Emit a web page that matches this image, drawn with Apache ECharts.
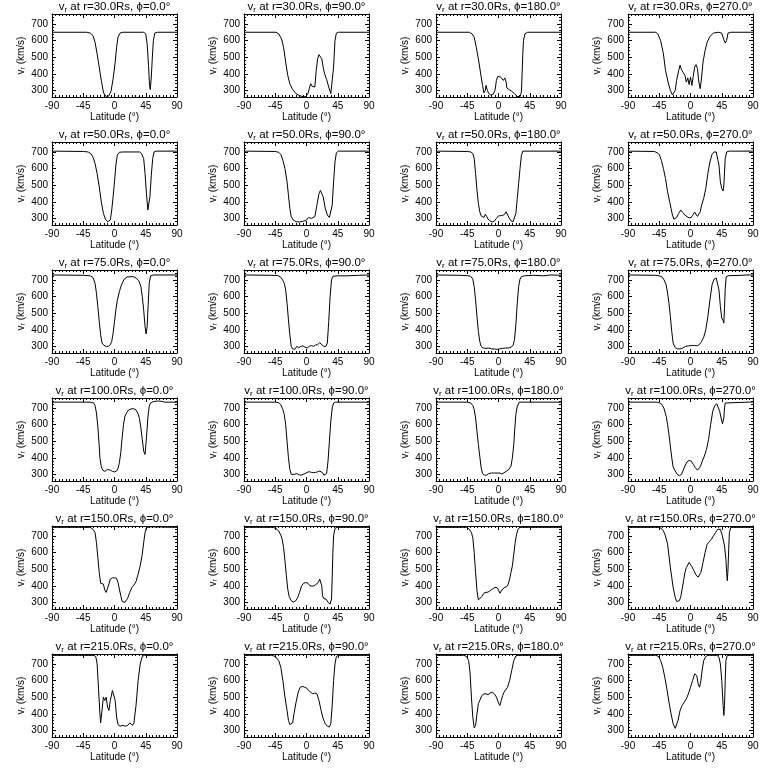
<!DOCTYPE html>
<html><head><meta charset="utf-8">
<script src="https://cdn.jsdelivr.net/npm/echarts@6/dist/echarts.min.js"></script>
<style>html,body{margin:0;padding:0;background:#fff}#c{width:768px;height:768px}</style>
</head><body><div id="c"></div>
<script>
const radii = [30, 50, 75, 100, 150, 215];
const phis = [0, 90, 180, 270];
const latTicks = [-90, -45, 0, 45, 90];
const vTicks = [300, 400, 500, 600, 700];

// [latitude (deg), v_r (km/s)]
const v_r30_p0 = [[-90,650],[-40,650],[-35,645],[-31,630],[-28,590],[-25,520],[-22,440],[-19,360],[-16,290],[-14,270],[-11,262],[-8,268],[-5,295],[-2,370],[1,470],[3,560],[5,620],[8,645],[12,650],[42,650],[45,640],[47,580],[49,450],[50.5,330],[51.5,305],[53,380],[54.5,500],[56,600],[58,645],[62,650],[90,650]];
const v_r30_p90 = [[-90,650],[-44,650],[-40,640],[-36,610],[-33,560],[-30,470],[-27,390],[-24,340],[-20,305],[-15,280],[-10,268],[-5,262],[-1,262],[2,280],[4,310],[6,340],[8,325],[10,318],[12,320],[14,420],[16,490],[18,515],[20,508],[22,490],[24,440],[26,400],[29,365],[32,320],[35,280],[37,275],[39,440],[41,600],[43,645],[46,650],[90,650]];
const v_r30_p180 = [[-90,650],[-42,650],[-38,640],[-35,620],[-32,560],[-29,490],[-26,410],[-23,330],[-21,285],[-19,300],[-18,330],[-16,300],[-14,280],[-11,272],[-8,275],[-5,300],[-3,360],[-1,385],[1,395],[3,380],[5,370],[7,360],[9,375],[11,350],[12,315],[15,305],[19,295],[23,280],[27,263],[31,262],[33,290],[34,400],[35,520],[36,600],[38,640],[42,650],[90,650]];
const v_r30_p270 = [[-90,650],[-50,650],[-47,640],[-43,600],[-39,520],[-36,420],[-32,345],[-29,300],[-26,272],[-24,275],[-22,300],[-20,360],[-17,420],[-15,452],[-13,425],[-11,410],[-8,390],[-6,350],[-4,375],[-2,335],[0,380],[2,330],[4,385],[6,440],[8,455],[10,430],[12,350],[14,310],[16,380],[18,470],[21,540],[24,590],[28,625],[33,645],[40,650],[45,645],[48,605],[50,585],[52,600],[54,645],[58,650],[90,650]];

const v_r50_p0 = [[-90,705],[-45,703],[-38,700],[-34,690],[-31,670],[-28,630],[-25,570],[-22,490],[-19,400],[-16,330],[-13,295],[-10,280],[-8,278],[-6,290],[-4,350],[-2,430],[0,520],[2,620],[4,680],[7,698],[12,700],[36,700],[39,690],[42,660],[44,570],[46,450],[48,350],[49.5,345],[51,430],[53,560],[55,660],[57,700],[60,705],[90,705]];
const v_r50_p90 = [[-90,705],[-45,703],[-40,698],[-37,685],[-34,650],[-31,600],[-28,520],[-26,440],[-24,360],[-22,310],[-19,290],[-15,280],[-10,278],[-5,282],[0,290],[3,305],[5,312],[7,300],[9,296],[12,310],[15,380],[18,450],[20,468],[22,465],[24,430],[27,360],[30,320],[33,305],[35,300],[37,380],[39,520],[41,640],[43,695],[46,705],[90,705]];
const v_r50_p180 = [[-90,705],[-45,703],[-40,700],[-37,690],[-35,660],[-33,570],[-31,470],[-29,390],[-27,340],[-25,315],[-23,303],[-21,305],[-19,325],[-17,312],[-15,295],[-12,285],[-9,278],[-6,283],[-3,300],[0,315],[3,316],[6,318],[9,325],[11,340],[13,330],[15,305],[18,285],[21,280],[23,283],[25,330],[27,420],[29,510],[31,600],[33,680],[35,705],[90,705]];
const v_r50_p270 = [[-90,705],[-52,703],[-48,695],[-45,685],[-42,650],[-39,600],[-36,540],[-33,460],[-30,400],[-28,360],[-26,320],[-24,295],[-22,292],[-20,305],[-17,330],[-14,350],[-11,335],[-8,320],[-5,310],[-2,303],[1,305],[3,318],[6,338],[8,330],[10,312],[12,310],[14,340],[16,380],[19,420],[22,480],[25,570],[28,640],[31,685],[34,700],[37,700],[39,690],[41,620],[43,520],[45,480],[47,465],[48,500],[49,580],[50,660],[52,700],[56,705],[90,705]];

const v_r75_p0 = [[-90,730],[-45,728],[-35,725],[-31,715],[-28,680],[-26,620],[-24,540],[-22,450],[-20,370],[-18,320],[-15,305],[-12,300],[-9,300],[-6,310],[-4,330],[-2,380],[0,450],[2,520],[4,575],[7,630],[10,670],[14,705],[18,718],[27,720],[31,712],[35,695],[38,660],[40,600],[42,520],[44,420],[45.5,375],[47,420],[48.5,550],[50,680],[52,725],[56,730],[90,730]];
const v_r75_p90 = [[-90,730],[-50,728],[-42,727],[-38,720],[-35,705],[-32,680],[-30,640],[-28,560],[-26,460],[-24,370],[-22,300],[-20,285],[-17,282],[-14,300],[-11,292],[-8,300],[-5,303],[-2,295],[1,290],[4,300],[7,305],[10,300],[13,308],[16,310],[19,322],[22,310],[25,300],[28,300],[30,320],[32,450],[34,600],[36,700],[38,722],[45,725],[60,725],[75,728],[90,730]];
const v_r75_p180 = [[-90,730],[-55,728],[-45,726],[-40,722],[-37,705],[-35,660],[-33,580],[-31,480],[-29,390],[-27,330],[-25,300],[-22,290],[-18,288],[-14,290],[-10,285],[-6,284],[-2,282],[2,285],[6,288],[10,290],[14,290],[18,295],[21,305],[23,340],[25,430],[27,560],[29,660],[31,705],[33,720],[37,725],[50,728],[65,725],[75,730],[90,728]];
const v_r75_p270 = [[-90,730],[-50,728],[-45,725],[-41,718],[-38,700],[-35,670],[-33,620],[-31,560],[-29,480],[-27,390],[-25,320],[-22,292],[-19,285],[-15,285],[-11,290],[-7,300],[-3,303],[2,305],[6,305],[10,304],[13,312],[16,330],[19,355],[22,400],[25,480],[28,580],[31,670],[34,705],[37,712],[39,700],[41,640],[43,540],[45,470],[47,455],[48,440],[49,530],[50,650],[51.5,720],[55,726],[70,727],[80,730],[90,730]];

const v_r100_p0 = [[-90,735],[-35,735],[-30,730],[-28,715],[-26,670],[-24,590],[-22,470],[-21,400],[-19,345],[-17,325],[-14,318],[-12,320],[-10,330],[-8,340],[-6,325],[-3,318],[0,315],[3,320],[5,335],[7,370],[9,430],[11,520],[13,600],[15,650],[18,675],[21,690],[25,695],[28,695],[31,688],[34,665],[36,635],[38,580],[40,510],[42,440],[44,420],[46,520],[48,640],[50,710],[52,730],[56,738],[62,742],[68,740],[72,735],[90,735]];
const v_r100_p90 = [[-90,735],[-45,735],[-40,732],[-37,720],[-34,690],[-32,660],[-30,600],[-28,500],[-26,400],[-24,330],[-22,300],[-20,288],[-17,300],[-14,305],[-11,298],[-8,295],[-5,300],[-2,305],[1,312],[4,316],[7,312],[10,310],[13,312],[16,315],[19,320],[21,328],[23,310],[25,295],[27,290],[29,305],[31,380],[33,500],[35,620],[37,700],[39,730],[42,735],[90,735]];
const v_r100_p180 = [[-90,735],[-45,735],[-40,730],[-37,715],[-35,690],[-33,640],[-31,560],[-29,480],[-27,410],[-25,340],[-23,305],[-20,295],[-17,295],[-14,305],[-10,308],[-6,308],[-2,308],[2,308],[5,302],[7,312],[11,318],[15,330],[18,350],[20,400],[22,480],[23.5,580],[25,660],[27,710],[30,735],[90,735]];
const v_r100_p270 = [[-90,735],[-48,735],[-44,730],[-41,720],[-38,695],[-35,650],[-33,600],[-31,540],[-29,470],[-27,400],[-25,345],[-22,320],[-19,300],[-16,292],[-13,300],[-11,320],[-8,350],[-5,375],[-2,384],[1,380],[4,360],[7,340],[10,325],[12,325],[14,345],[17,380],[20,410],[23,450],[26,510],[29,600],[32,680],[35,715],[38,725],[40,715],[42,680],[44,640],[46,605],[47,600],[48,640],[49,700],[50,730],[52,736],[90,736]];

const v_r150_p0 = [[-90,752],[-35,752],[-31,740],[-28,720],[-26,660],[-24,570],[-22,480],[-20,415],[-18,405],[-16,410],[-14,375],[-12,360],[-10,352],[-8,410],[-6,440],[-3,448],[0,448],[3,445],[5,420],[7,380],[9,340],[11,305],[13,298],[15,300],[17,310],[19,325],[22,360],[25,390],[28,405],[31,425],[34,470],[37,520],[40,590],[42,660],[44,720],[46,750],[50,755],[90,752]];
const v_r150_p90 = [[-90,752],[-48,752],[-44,745],[-40,730],[-37,705],[-35,680],[-33,630],[-31,550],[-29,460],[-27,380],[-25,335],[-22,310],[-19,302],[-16,308],[-13,325],[-10,360],[-7,400],[-4,415],[-1,420],[2,415],[5,400],[8,398],[11,400],[14,410],[17,420],[19,440],[21,450],[22,400],[23,340],[25,322],[28,320],[31,300],[34,290],[36,320],[37,450],[38,600],[39,700],[41,745],[44,752],[90,752]];
const v_r150_p180 = [[-90,752],[-46,752],[-42,740],[-39,720],[-37,690],[-35,600],[-33,480],[-31,370],[-29,315],[-27,315],[-24,335],[-21,355],[-18,360],[-15,362],[-12,370],[-9,380],[-5,390],[-2,388],[0,375],[2,355],[4,360],[6,380],[9,390],[12,395],[14,410],[16,440],[18,480],[20,520],[22,590],[24,660],[26,710],[28,740],[31,752],[90,752]];
const v_r150_p270 = [[-90,752],[-45,752],[-42,745],[-39,730],[-36,700],[-33,650],[-31,580],[-29,510],[-27,450],[-25,390],[-22,330],[-20,305],[-18,300],[-16,310],[-14,335],[-12,380],[-10,430],[-8,480],[-6,510],[-4,525],[-2,540],[0,535],[2,515],[5,490],[8,465],[11,452],[13,455],[15,480],[18,540],[21,600],[24,650],[27,665],[30,680],[33,700],[36,720],[39,740],[41,752],[43,740],[46,700],[49,640],[51,560],[52,480],[53,430],[54,500],[55,620],[56,720],[58,752],[90,752]];

const v_r215_p0 = [[-90,752],[-30,752],[-27,745],[-25,700],[-23,550],[-21,400],[-20,345],[-18,420],[-16,500],[-14,480],[-12,500],[-10,440],[-8,420],[-6,480],[-3,540],[-1,550],[1,480],[3,380],[5,335],[8,325],[12,330],[16,325],[19,330],[22,345],[24,340],[26,330],[28,345],[31,450],[34,600],[37,700],[40,745],[43,752],[90,752]];
const v_r215_p90 = [[-90,752],[-50,752],[-45,745],[-40,720],[-37,680],[-34,600],[-31,500],[-28,420],[-26,360],[-24,335],[-22,330],[-20,345],[-18,400],[-15,470],[-12,530],[-9,560],[-6,565],[-3,560],[0,555],[3,540],[6,530],[9,520],[12,525],[15,520],[18,480],[21,420],[24,370],[27,340],[30,325],[33,320],[35,340],[37,450],[39,600],[41,700],[43,745],[46,752],[90,752]];
const v_r215_p180 = [[-90,752],[-50,752],[-46,745],[-43,720],[-41,650],[-39,500],[-37,380],[-35,315],[-33,330],[-31,400],[-29,460],[-27,480],[-24,510],[-21,520],[-18,520],[-15,515],[-12,525],[-9,530],[-6,520],[-3,500],[0,465],[2,450],[4,480],[6,510],[8,530],[10,540],[13,560],[16,600],[19,660],[22,720],[25,748],[28,752],[90,752]];
const v_r215_p270 = [[-90,752],[-50,752],[-46,745],[-43,720],[-40,680],[-37,620],[-34,550],[-31,470],[-28,400],[-25,340],[-22,312],[-20,315],[-18,360],[-15,420],[-12,450],[-9,470],[-6,490],[-3,520],[0,560],[3,600],[6,640],[9,630],[11,580],[13,560],[15,600],[17,670],[19,720],[22,745],[25,752],[38,752],[41,740],[43,700],[45,600],[47,450],[48,390],[49,450],[50,600],[51,720],[53,752],[90,752]];

const panelData = [
  [v_r30_p0, v_r30_p90, v_r30_p180, v_r30_p270],
  [v_r50_p0, v_r50_p90, v_r50_p180, v_r50_p270],
  [v_r75_p0, v_r75_p90, v_r75_p180, v_r75_p270],
  [v_r100_p0, v_r100_p90, v_r100_p180, v_r100_p270],
  [v_r150_p0, v_r150_p90, v_r150_p180, v_r150_p270],
  [v_r215_p0, v_r215_p90, v_r215_p180, v_r215_p270]
];

const FONT = 'Liberation Sans';
const BLACK = '#000';
const richTxt = {
  a: {fontFamily: FONT, fontSize: 10, color: BLACK, lineHeight: 12, verticalAlign: 'middle'},
  s: {fontFamily: FONT, fontSize: 7, color: BLACK, lineHeight: 7, verticalAlign: 'bottom'}
};
const richTitle = {
  a: {fontFamily: FONT, fontSize: 11.5, color: BLACK, lineHeight: 13, verticalAlign: 'middle'},
  s: {fontFamily: FONT, fontSize: 8, color: BLACK, lineHeight: 8, verticalAlign: 'bottom'}
};

const grid = [], xAxis = [], yAxis = [], series = [], graphic = [];
const PW = 125, PH = 83;
radii.forEach((r, i) => {
  phis.forEach((p, j) => {
    const k = i * 4 + j;
    const left = 52 + 192 * j, top = 14 + 128 * i;
    grid.push({left: left, top: top, width: PW, height: PH});
    const lineS = {onZero: false, lineStyle: {color: BLACK, width: 1}};
    const noLine = {show: false, onZero: false};
    xAxis.push({
      gridIndex: k, type: 'value', position: 'bottom', min: -90, max: 90, interval: 45,
      name: 'Latitude (°)', nameLocation: 'middle', nameGap: 14,
      nameTextStyle: {fontFamily: FONT, fontSize: 10, color: BLACK},
      axisLine: lineS,
      axisTick: {inside: true, length: 4, lineStyle: {color: BLACK}},
      minorTick: {show: true, splitNumber: 9, length: 2, lineStyle: {color: BLACK}},
      axisLabel: {fontFamily: FONT, fontSize: 10, color: BLACK, margin: 4, showMinLabel: true, showMaxLabel: true, customValues: latTicks},
      splitLine: {show: false}
    });
    xAxis.push({
      gridIndex: k, type: 'value', position: 'top', min: -90, max: 90, interval: 45,
      axisLine: lineS,
      axisTick: {inside: true, length: 4, lineStyle: {color: BLACK}},
      minorTick: {show: true, splitNumber: 9, length: 2, lineStyle: {color: BLACK}},
      axisLabel: {show: false}, splitLine: {show: false}
    });
    // left main
    yAxis.push({
      gridIndex: k, type: 'value', position: 'left', min: 260, max: 760, interval: 20,
      name: '{a|v}{s|r}{a| (km/s)}', nameLocation: 'middle', nameGap: 25,
      nameTextStyle: {rich: richTxt},
      axisLine: lineS,
      axisTick: {inside: true, length: 4, customValues: vTicks, lineStyle: {color: BLACK}},
      axisLabel: {fontFamily: FONT, fontSize: 10, color: BLACK, margin: 4, customValues: vTicks},
      splitLine: {show: false}
    });
    // left minor
    yAxis.push({
      gridIndex: k, type: 'value', position: 'left', offset: 0, min: 260, max: 760, interval: 20,
      axisLine: noLine, axisTick: {inside: true, length: 2, lineStyle: {color: BLACK}},
      axisLabel: {show: false}, splitLine: {show: false}
    });
    // right main
    yAxis.push({
      gridIndex: k, type: 'value', position: 'right', min: 260, max: 760, interval: 20,
      axisLine: lineS,
      axisTick: {inside: true, length: 4, customValues: vTicks, lineStyle: {color: BLACK}},
      axisLabel: {show: false}, splitLine: {show: false}
    });
    // right minor
    yAxis.push({
      gridIndex: k, type: 'value', position: 'right', offset: 0, min: 260, max: 760, interval: 20,
      axisLine: noLine, axisTick: {inside: true, length: 2, lineStyle: {color: BLACK}},
      axisLabel: {show: false}, splitLine: {show: false}
    });
    series.push({
      type: 'line', xAxisIndex: 2 * k, yAxisIndex: 4 * k, data: panelData[i][j],
      symbol: 'none', showSymbol: false, smooth: false,
      lineStyle: {color: BLACK, width: 1}, emphasis: {disabled: true}, silent: true
    });
    graphic.push({
      type: 'text', x: left + PW / 2, y: top - 7,
      style: {
        text: '{a|v}{s|r}{a| at r=' + r.toFixed(1) + 'Rs, ϕ=' + p.toFixed(1) + '°}',
        rich: richTitle, align: 'center', verticalAlign: 'middle'
      }
    });
  });
});

const chart = echarts.init(document.getElementById('c'), null, {renderer: 'canvas'});
chart.setOption({
  backgroundColor: '#fff', animation: false,
  grid: grid, xAxis: xAxis, yAxis: yAxis, series: series, graphic: graphic
});
</script>
</body></html>
